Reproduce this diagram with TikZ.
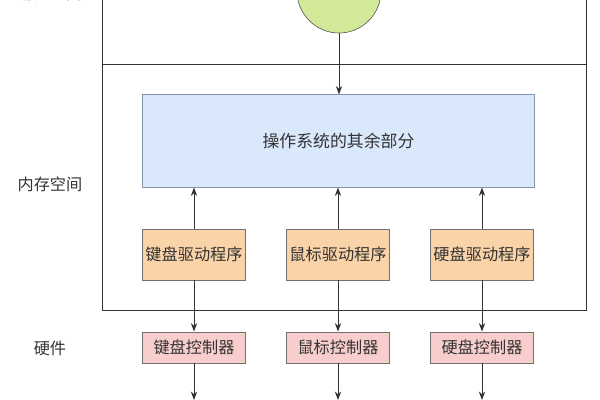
\documentclass[tikz,border=0pt]{standalone}
\usepackage{fontspec}
\setmainfont{Noto Sans CJK SC}
\usepackage{tikz}
\usetikzlibrary{arrows.meta}

\definecolor{procgreen}{HTML}{D3E99A}
\definecolor{osblue}{HTML}{DAE8FC}
\definecolor{osedge}{HTML}{8494AC}
\definecolor{drvorange}{HTML}{FAD3A8}
\definecolor{ctlpink}{HTML}{F8CECC}
\definecolor{edgegray}{HTML}{707070}

\tikzset{
    box/.style={draw=edgegray, line width=0.7pt, minimum width=2.575cm, inner sep=0pt,
        font=\fontsize{11.5}{13}\selectfont, text=black!80},
    driver/.style={box, fill=drvorange, minimum height=1.275cm},
    ctrl/.style={box, fill=ctlpink, minimum height=0.775cm},
    lbl/.style={font=\fontsize{11.5}{13}\selectfont, text=black!80},
    arr/.style={-{Stealth[length=6pt, width=4.5pt]}, line width=0.7pt, draw=black!80},
}

\begin{document}
\begin{tikzpicture}[x=0.025cm, y=-0.025cm]
    \useasboundingbox (0, 0) rectangle (600, 400);
    \clip (0, 0) rectangle (600, 400);

    % spaces
    \draw[line width=0.7pt, black!80] (102, -20) -- (102, 310) -- (586, 310) -- (586, -20);
    \draw[line width=0.7pt, black!80] (102, 64) -- (586, 64);

    \node[lbl] at (50, -7) (user) {用户空间};
    \node[lbl] at (50, 184) (mem) {内存空间};
    \node[lbl] at (50, 348) (hw) {硬件};

    \node[draw=black!70, fill=procgreen, circle, minimum size=2.1cm, inner sep=0pt,
        font=\fontsize{11.5}{13}\selectfont, text=black!80] at (339, -9) (proc) {应用程序};

    \node[box, fill=osblue, draw=osedge, minimum width=9.775cm, minimum height=2.3cm,
        font=\fontsize{12}{14}\selectfont] at (338.5, 141) (rest) {操作系统的其余部分};

    \node[driver] at (194, 254.5) (kbddrv) {键盘驱动程序};
    \node[driver] at (338, 254.5) (mousedrv) {鼠标驱动程序};
    \node[driver] at (482, 254.5) (diskdrv) {硬盘驱动程序};

    \node[ctrl] at (194, 347.5) (kbdctl) {键盘控制器};
    \node[ctrl] at (338, 347.5) (mousectl) {鼠标控制器};
    \node[ctrl] at (482, 347.5) (diskctl) {硬盘控制器};

    \coordinate (kbdout) at (194, 400);
    \coordinate (mouseout) at (338, 400);
    \coordinate (diskout) at (482, 400);

    \draw[arr] (proc) -- (proc |- rest.north);

    \draw[arr] (kbddrv) -- (kbddrv |- rest.south);
    \draw[arr] (mousedrv) -- (mousedrv |- rest.south);
    \draw[arr] (diskdrv) -- (diskdrv |- rest.south);

    \draw[arr] (kbddrv) -- (kbdctl);
    \draw[arr] (mousedrv) -- (mousectl);
    \draw[arr] (diskdrv) -- (diskctl);

    \draw[arr] (kbdctl) -- (kbdout);
    \draw[arr] (mousectl) -- (mouseout);
    \draw[arr] (diskctl) -- (diskout);
\end{tikzpicture}
\end{document}
